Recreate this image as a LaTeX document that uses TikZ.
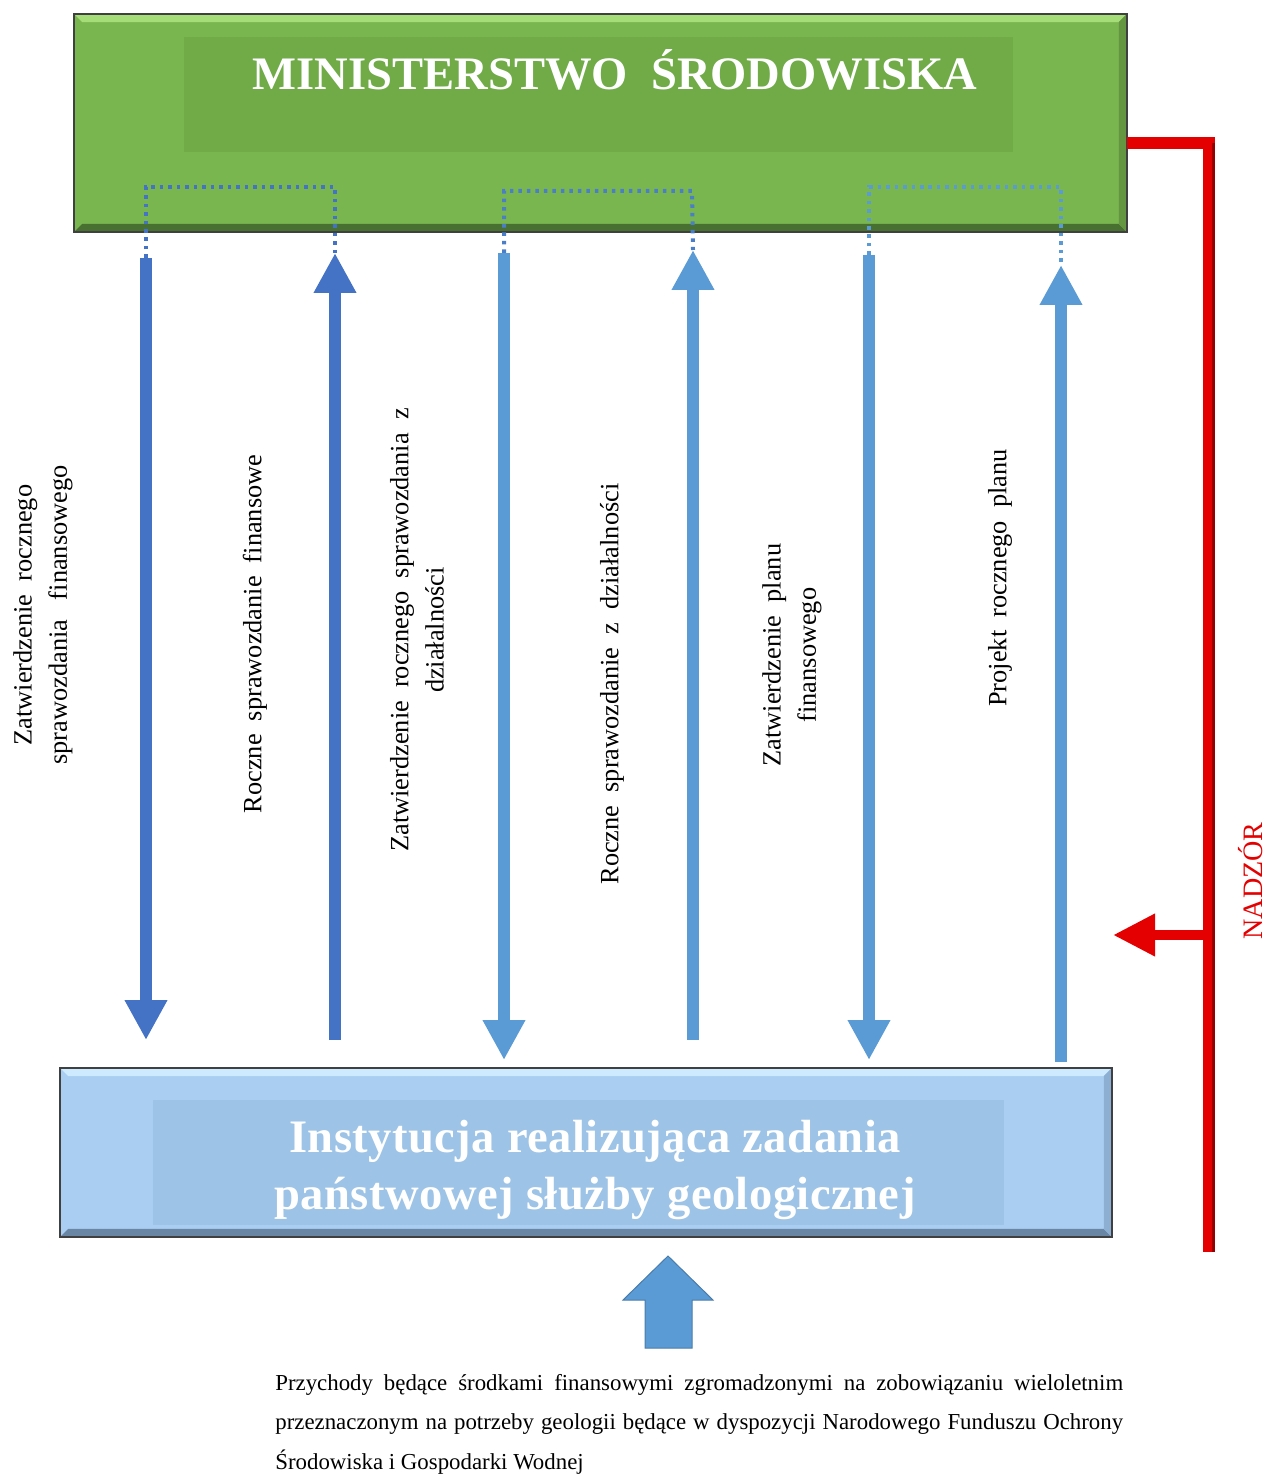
\documentclass[tikz,border=0pt]{standalone}
\usepackage{fontspec}
\setmainfont{Liberation Serif}
\usetikzlibrary{arrows.meta}
\definecolor{gmain}{RGB}{122,182,80}
\definecolor{ginner}{RGB}{112,171,72}
\definecolor{glight}{RGB}{165,222,120}
\definecolor{gdark}{RGB}{72,112,48}
\definecolor{gside}{RGB}{100,150,65}
\definecolor{bmain}{RGB}{169,206,241}
\definecolor{binner}{RGB}{157,195,230}
\definecolor{blight}{RGB}{205,234,255}
\definecolor{bdark}{RGB}{105,135,165}
\definecolor{bside}{RGB}{140,175,210}
\definecolor{dblue}{RGB}{68,114,196}
\definecolor{lblue}{RGB}{91,155,213}
\definecolor{myred}{RGB}{228,0,0}
\definecolor{mydarkred}{RGB}{150,0,0}
\begin{document}
\begin{tikzpicture}[x=0.02cm,y=-0.02cm,
  plainbox/.style={rectangle,inner sep=0pt,outer sep=0pt},
  frame/.style={line width=0.05cm,draw=black!75},
  titletext/.style={text=white,font=\fontsize{26.5}{32}\selectfont\bfseries,align=center,inner sep=0pt},
  lbl/.style={rotate=90,align=center,inner sep=0pt,font=\fontsize{15}{20}\selectfont},
  shaft/.style={line width=0.24cm,line cap=butt},
  tipdown/.style={-{Triangle[length=0.8cm,width=0.8cm]}},
  dotline/.style={line width=0.08cm,dash pattern=on 0.07cm off 0.1cm},
  redline/.style={myred,line width=0.24cm,line join=miter}
]
\useasboundingbox (0,0) rectangle (1268,1476);

% ---------- Ministerstwo box ----------
\node[plainbox,fill=gmain,minimum width=21.06cm,minimum height=4.36cm] (ms) at (600.5,123) {};
\fill[glight] (ms.north west) -- (ms.north east) -- ([shift={(-8,8)}]ms.north east) -- ([shift={(8,8)}]ms.north west) -- cycle;
\fill[gdark] (ms.south west) -- (ms.south east) -- ([shift={(-8,-8)}]ms.south east) -- ([shift={(8,-8)}]ms.south west) -- cycle;
\fill[gside] (ms.north east) -- (ms.south east) -- ([shift={(-8,-8)}]ms.south east) -- ([shift={(-8,8)}]ms.north east) -- cycle;
\draw[frame] (ms.north west) rectangle (ms.south east);
\node[plainbox,fill=ginner,minimum width=16.58cm,minimum height=2.3cm] (msin) at (598.5,94.5) {};
\node[titletext] (mst) at (615,70) {MINISTERSTWO\ \ ŚRODOWISKA};

% ---------- Instytucja box ----------
\node[plainbox,fill=bmain,minimum width=21.04cm,minimum height=3.38cm] (inst) at (586,1152.5) {};
\fill[blight] (inst.north west) -- (inst.north east) -- ([shift={(-8,8)}]inst.north east) -- ([shift={(8,8)}]inst.north west) -- cycle;
\fill[bdark] (inst.south west) -- (inst.south east) -- ([shift={(-8,-8)}]inst.south east) -- ([shift={(8,-8)}]inst.south west) -- cycle;
\fill[bside] (inst.north east) -- (inst.south east) -- ([shift={(-8,-8)}]inst.south east) -- ([shift={(-8,8)}]inst.north east) -- cycle;
\draw[frame] (inst.north west) rectangle (inst.south east);
\node[plainbox,fill=binner,minimum width=17.02cm,minimum height=2.5cm] (instin) at (578.5,1162.5) {};
\node[titletext,font=\fontsize{26.5}{32}\selectfont\bfseries\addfontfeatures{LetterSpace=1}] (instt) at (595,1170) {Instytucja realizująca zadania\\państwowej służby geologicznej};

% ---------- arrow end points ----------
\coordinate (a1s) at (146,258);  \coordinate (a1e) at (146,1040);
\coordinate (a2s) at (335,1040); \coordinate (a2e) at (335,253);
\coordinate (a3s) at (504,253);  \coordinate (a3e) at (504,1060);
\coordinate (a4s) at (693,1040); \coordinate (a4e) at (693,250);
\coordinate (a5s) at (869,255);  \coordinate (a5e) at (869,1060);
\coordinate (a6s) at (1061,1062);\coordinate (a6e) at (1061,265);
\coordinate (d1a) at (146,187);  \coordinate (d1b) at (335,187);
\coordinate (d2a) at (504,191);  \coordinate (d2b) at (692,191);
\coordinate (d3a) at (869,187);  \coordinate (d3b) at (1061,187);

% dotted connectors
\draw[dotline,dblue] (a1s) -- (d1a) -- (d1b) -- (a2e);
\draw[dotline,dblue!70!lblue] (a3s) -- (d2a) -- (d2b) -- (a4e);
\draw[dotline,lblue] (a5s) -- (d3a) -- (d3b) -- (a6e);

% vertical arrows
\draw[shaft,tipdown,dblue] (a1s) -- (a1e);
\draw[shaft,tipdown,dblue] (a2s) -- (a2e);
\draw[shaft,tipdown,lblue] (a3s) -- (a3e);
\draw[shaft,tipdown,lblue] (a4s) -- (a4e);
\draw[shaft,tipdown,lblue] (a5s) -- (a5e);
\draw[shaft,tipdown,lblue] (a6s) -- (a6e);

% labels
\node[lbl] (l1) at (43,615) {Zatwierdzenie\ \ rocznego\\sprawozdania\ \ \ finansowego};
\node[lbl] (l2) at (255,634) {Roczne\ \ sprawozdanie\ \ finansowe};
\node[lbl] (l3) at (417,630) {Zatwierdzenie\ \ rocznego\ \ sprawozdania\ \ z\\działalności};
\node[lbl] (l4) at (612,684) {Roczne\ \ sprawozdanie\ \ z\ \ działalności};
\node[lbl] (l5) at (792,655) {Zatwierdzenie\ \ planu\\finansowego};
\node[lbl] (l6) at (1000,578) {Projekt\ \ rocznego\ \ planu};

% ---------- NADZOR ----------
\coordinate (r0) at (1127,143);
\coordinate (r1) at (1209,143);
\coordinate (r2) at (1209,1252);
\coordinate (r3) at (1209,935);
\coordinate (r4) at (1113,935);
\draw[redline] (r0) -- (r1) -- (r2);
\draw[mydarkred,line width=0.06cm] ([xshift=0.09cm]r1) -- ([xshift=0.09cm]r2);
\draw[myred,line width=0.2cm,-{Triangle[length=0.84cm,width=0.8cm]}] (r3) -- (r4);
\node[rotate=90,text=myred,font=\fontsize{16}{20}\selectfont,inner sep=0pt] (nad) at (1251,881) {NADZÓR};

% ---------- bottom block arrow ----------
\filldraw[fill=lblue,draw=lblue!80!black,line width=0.02cm]
  (668,1256) -- (713,1300) -- (692,1300) -- (692,1348) -- (645,1348) -- (645,1300) -- (623,1300) -- cycle;

\node[anchor=north west,text width=16.96cm,inner sep=0pt,align=justify,
      font=\fontsize{13}{22.5}\selectfont] (fund) at (275,1374)
  {Przychody będące środkami finansowymi zgromadzonymi na zobowiązaniu wieloletnim\linebreak
   przeznaczonym na potrzeby geologii będące w dyspozycji Narodowego Funduszu Ochrony\linebreak
   Środowiska i Gospodarki Wodnej};
\end{tikzpicture}
\end{document}
